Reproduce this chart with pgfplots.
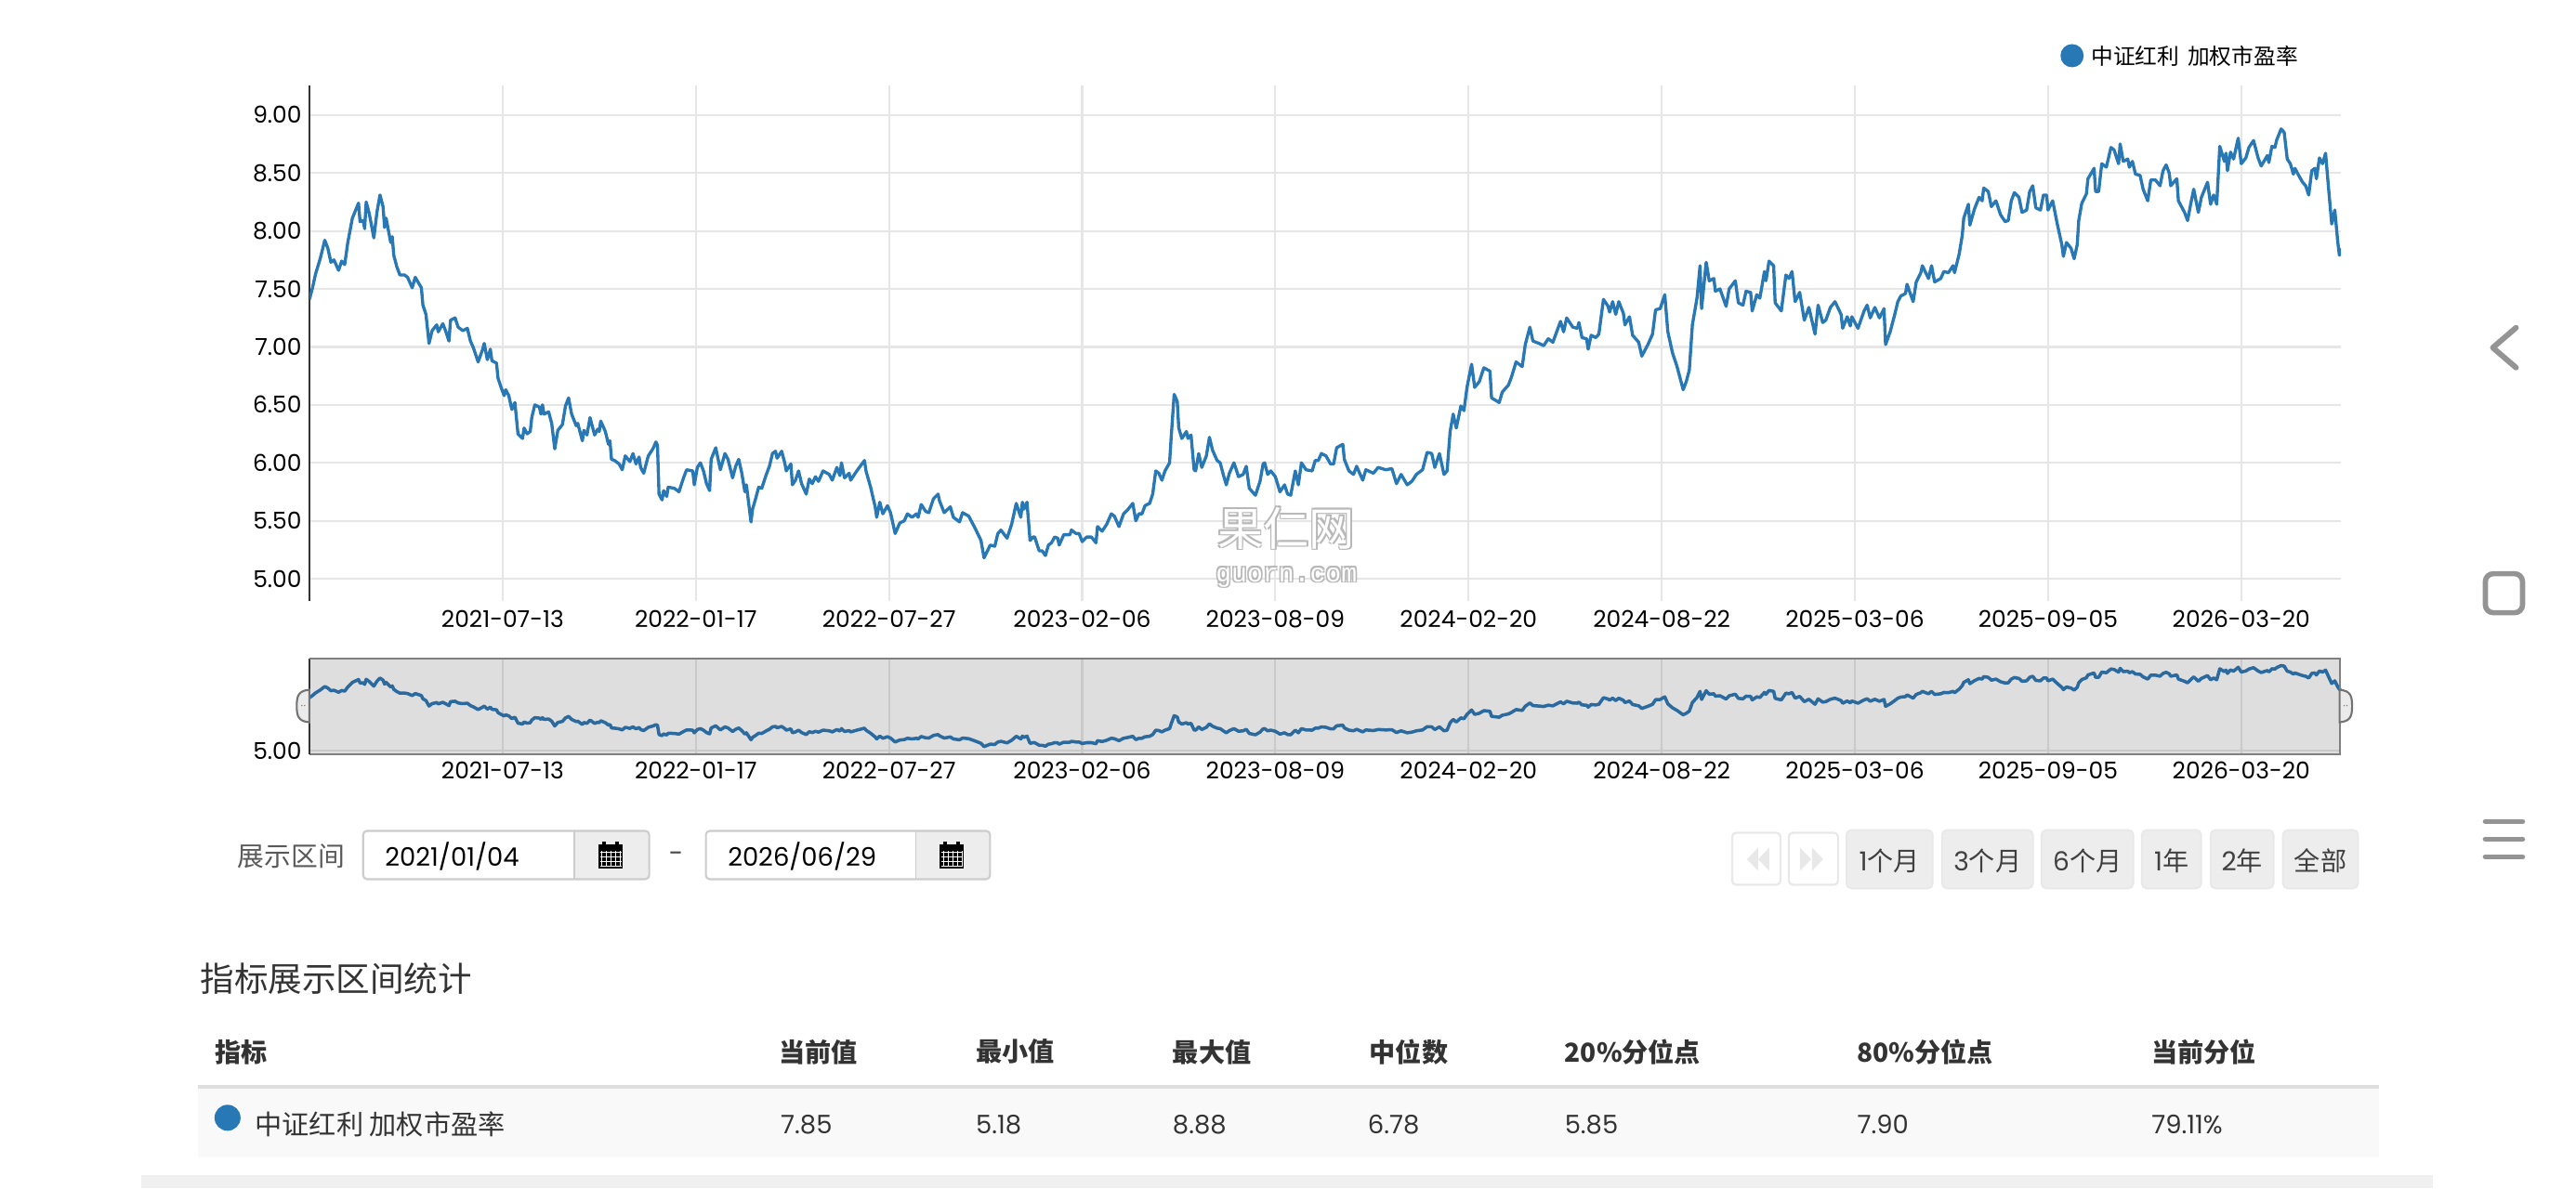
\documentclass[border=0pt]{standalone}
\usepackage{fontspec}
\usepackage{pgfplots}
\usepackage{pgfplotstable}
\pgfplotsset{compat=1.18}
\setmainfont{Poppins}
\newfontfamily\cjk{Noto Sans CJK SC}
\newfontfamily\wmono{Liberation Mono}
\newcommand\fs[1]{\fontsize{#1}{#1}\selectfont}
\definecolor{ser}{HTML}{2878B5}
\definecolor{navser}{HTML}{2A6A9E}
\definecolor{gr}{HTML}{E6E6E6}
\definecolor{txt}{HTML}{333333}
\pgfplotstableread{
x y
0 7.41
2 7.51
4 7.63
7 7.76
10 7.92
12 7.85
14 7.73
16 7.75
19 7.66
21 7.74
23 7.71
25 7.90
28 8.11
32 8.24
33 8.08
35 8.09
36 8.02
37 8.25
39 8.15
42 7.94
44 8.16
46 8.31
48 8.21
49 8.03
50 8.11
53 7.90
54 7.95
55 7.79
57 7.69
59 7.62
62 7.62
64 7.60
67 7.51
69 7.60
73 7.51
74 7.36
76 7.28
78 7.03
80 7.14
83 7.19
84 7.13
87 7.20
89 7.13
91 7.05
92 7.23
95 7.25
97 7.17
100 7.14
103 7.16
105 7.05
107 6.99
110 6.87
113 6.98
114 7.03
116 6.89
118 6.98
119 6.88
122 6.86
123 6.73
125 6.65
127 6.58
128 6.63
130 6.58
132 6.46
134 6.52
136 6.25
139 6.21
140 6.30
142 6.25
144 6.27
145 6.39
147 6.50
150 6.48
151 6.42
152 6.50
153 6.42
156 6.44
158 6.34
160 6.12
162 6.28
165 6.33
167 6.49
169 6.56
171 6.42
174 6.32
175 6.34
178 6.19
179 6.28
181 6.24
183 6.39
186 6.24
188 6.29
189 6.27
190 6.36
193 6.27
195 6.16
196 6.19
197 6.03
199 6.02
202 5.99
204 5.94
206 6.06
209 6.01
211 6.08
213 5.99
215 6.05
216 5.96
218 5.91
221 6.06
224 6.12
226 6.18
227 6.15
228 5.73
230 5.68
231 5.76
233 5.71
234 5.79
238 5.78
241 5.75
244 5.87
246 5.94
250 5.93
251 5.81
253 5.96
255 6.00
257 5.93
259 5.82
261 5.76
262 6.03
265 6.13
268 5.94
271 6.08
273 6.03
276 5.87
278 5.97
280 6.03
282 5.91
284 5.75
285 5.81
288 5.49
289 5.60
291 5.69
293 5.79
295 5.78
298 5.90
300 5.97
302 6.08
304 6.10
305 6.04
308 6.10
310 6.00
311 5.93
314 5.99
315 5.81
317 5.85
319 5.93
321 5.82
324 5.73
326 5.86
328 5.82
330 5.88
332 5.84
335 5.93
339 5.90
341 5.85
344 5.96
346 5.89
347 6.00
349 5.87
352 5.91
353 5.85
357 5.93
362 6.02
363 5.93
366 5.79
369 5.62
370 5.53
372 5.66
374 5.56
377 5.63
379 5.57
382 5.39
385 5.48
388 5.50
390 5.56
393 5.53
396 5.56
397 5.53
399 5.64
402 5.58
404 5.57
407 5.69
410 5.73
411 5.67
414 5.57
418 5.62
420 5.53
424 5.49
426 5.57
430 5.54
434 5.44
438 5.33
440 5.18
444 5.29
447 5.28
449 5.39
451 5.42
455 5.35
458 5.47
461 5.65
464 5.53
465 5.66
466 5.60
468 5.66
470 5.33
472 5.36
473 5.36
476 5.24
478 5.24
480 5.20
482 5.29
484 5.31
486 5.36
488 5.35
489 5.29
492 5.38
496 5.38
497 5.42
500 5.39
502 5.39
504 5.32
507 5.36
510 5.36
513 5.31
514 5.45
517 5.41
520 5.47
523 5.56
525 5.54
528 5.45
531 5.56
534 5.60
537 5.65
539 5.50
541 5.56
543 5.56
545 5.63
548 5.65
550 5.73
552 5.93
554 5.91
556 5.85
558 5.93
561 6.00
562 6.21
564 6.59
566 6.53
567 6.30
569 6.21
572 6.27
573 6.21
575 6.24
577 5.94
578 5.93
580 6.08
582 5.96
585 6.06
587 6.22
589 6.11
592 6.02
594 6.00
596 5.90
598 5.81
600 5.91
603 6.00
606 5.88
609 5.90
611 5.97
613 5.78
617 5.72
620 5.84
622 5.99
623 6.00
625 5.90
627 5.93
630 5.88
633 5.75
636 5.81
638 5.73
640 5.72
643 5.93
645 5.81
647 6.00
650 5.94
654 5.93
656 6.02
658 6.02
660 6.08
663 6.06
666 5.99
668 5.99
670 6.13
674 6.16
675 6.03
678 5.93
681 5.90
683 5.97
687 5.85
689 5.94
694 5.91
697 5.96
702 5.94
706 5.95
709 5.82
712 5.90
716 5.81
719 5.84
722 5.90
726 5.94
729 6.09
732 6.08
734 5.96
737 6.08
740 5.90
742 5.93
744 6.27
746 6.42
748 6.30
751 6.49
753 6.45
755 6.65
758 6.85
760 6.65
763 6.70
766 6.82
770 6.79
771 6.56
776 6.52
778 6.61
782 6.67
784 6.74
787 6.87
791 6.83
793 7.02
796 7.17
798 7.05
802 7.03
805 7.01
808 7.07
811 7.04
816 7.22
818 7.13
820 7.25
824 7.17
827 7.16
828 7.21
830 7.08
833 7.07
834 6.98
836 7.10
839 7.08
841 7.11
844 7.41
847 7.35
848 7.30
850 7.39
852 7.28
854 7.39
857 7.29
858 7.19
861 7.26
863 7.10
865 7.07
867 7.04
869 6.92
873 7.02
876 7.11
878 7.32
881 7.33
884 7.45
886 7.13
889 6.95
892 6.83
896 6.63
898 6.70
900 6.80
902 7.19
905 7.42
907 7.70
908 7.33
911 7.73
913 7.57
916 7.59
917 7.48
920 7.50
924 7.35
926 7.50
930 7.57
932 7.38
935 7.36
937 7.48
940 7.47
941 7.31
944 7.45
946 7.42
949 7.65
950 7.57
952 7.74
955 7.70
956 7.38
960 7.31
963 7.62
965 7.59
967 7.65
969 7.39
972 7.47
975 7.23
978 7.34
982 7.11
984 7.36
987 7.21
989 7.23
992 7.34
995 7.39
999 7.28
1000 7.16
1003 7.26
1005 7.18
1006 7.26
1010 7.16
1014 7.31
1016 7.36
1018 7.25
1021 7.34
1024 7.25
1027 7.33
1028 7.02
1031 7.13
1034 7.28
1036 7.39
1038 7.44
1041 7.46
1042 7.54
1046 7.39
1048 7.56
1051 7.64
1052 7.70
1056 7.59
1058 7.70
1060 7.56
1064 7.59
1066 7.65
1069 7.64
1072 7.70
1073 7.64
1076 7.80
1078 7.96
1079 8.11
1082 8.23
1083 8.05
1086 8.19
1089 8.29
1091 8.26
1092 8.37
1095 8.34
1097 8.21
1100 8.26
1103 8.14
1106 8.08
1108 8.09
1110 8.26
1112 8.33
1115 8.29
1117 8.16
1120 8.18
1122 8.34
1124 8.39
1126 8.20
1129 8.18
1131 8.31
1133 8.31
1134 8.18
1137 8.26
1140 8.06
1143 7.88
1144 7.78
1146 7.90
1149 7.85
1151 7.76
1153 7.88
1154 8.09
1156 8.24
1159 8.32
1160 8.45
1164 8.54
1165 8.34
1167 8.34
1169 8.58
1172 8.55
1175 8.72
1177 8.70
1180 8.58
1181 8.75
1183 8.60
1186 8.62
1187 8.55
1189 8.60
1191 8.49
1194 8.48
1196 8.36
1199 8.26
1201 8.44
1204 8.44
1207 8.39
1209 8.52
1211 8.57
1213 8.50
1214 8.39
1218 8.45
1219 8.26
1223 8.16
1225 8.09
1227 8.23
1229 8.36
1232 8.16
1234 8.29
1238 8.42
1240 8.23
1242 8.31
1244 8.23
1246 8.73
1249 8.60
1250 8.67
1251 8.52
1253 8.68
1255 8.62
1258 8.80
1260 8.58
1263 8.63
1265 8.72
1268 8.78
1271 8.63
1273 8.56
1277 8.65
1278 8.59
1280 8.73
1282 8.72
1283 8.78
1286 8.88
1288 8.85
1290 8.62
1292 8.58
1294 8.49
1295 8.54
1297 8.49
1300 8.42
1302 8.39
1304 8.31
1306 8.52
1308 8.54
1309 8.45
1311 8.63
1313 8.58
1315 8.67
1317 8.36
1319 8.06
1321 8.18
1323 7.90
1324 7.79
1325 7.85
}\data
\pgfplotsset{
  uiaxis/.style={
    scale only axis, width=21.86cm,
    xmin=0, xmax=1325,
    axis x line*=bottom, axis y line*=left,
    xtick={126,252,378,504,630,756,882,1008,1134,1260},
    xticklabels={2021-07-13,2022-01-17,2022-07-27,2023-02-06,2023-08-09,2024-02-20,2024-08-22,2025-03-06,2025-09-05,2026-03-20},
    major tick length=0pt,
    tick style={draw=none},
    xticklabel style={font=\fs{7.1}, text=black, inner sep=0pt, anchor=north},
    yticklabel style={font=\fs{7.1}, text=black, inner sep=0pt, anchor=east, xshift=-2.2pt},
    /pgf/number format/assume math mode=true,
    /pgf/number format/fixed, /pgf/number format/zerofill, /pgf/number format/precision=2,
    grid=major,
  }
}
\begin{document}
\begin{tikzpicture}
\path[use as bounding box, fill=white] (0,0) rectangle (27.72,-12.80);
% main chart
\begin{axis}[uiaxis, at={(3.33cm,-6.47cm)}, anchor=south west, height=5.55cm,
  ymin=4.808, ymax=9.255,
  ytick={5,5.5,6,6.5,7,7.5,8,8.5,9},
  major grid style={draw=gr, line width=0.62pt},
  x axis line style={draw=none},
  y axis line style={draw=txt, line width=0.6pt},
  xticklabel style={yshift=-2.6pt},
]
\addplot[color=ser, line width=0.95pt, line join=round, no marks] table[x=x,y=y] {\data};
\end{axis}
% navigator
\begin{axis}[uiaxis, at={(3.33cm,-8.117cm)}, anchor=south west, height=1.027cm,
  ymin=4.843, ymax=9.195,
  ytick={5},
  axis background/.style={fill=black!13},
  major grid style={draw=black!21, line width=0.62pt},
  x axis line style={draw=black!50, line width=0.6pt},
  y axis line style={draw=txt, line width=0.6pt},
  xticklabel style={yshift=-2.2pt},
  clip=false,
]
\addplot[color=navser, line width=1pt, line join=round, no marks] table[x=x,y=y] {\data};
\end{axis}
\begin{scope}[x=0.01cm, y=-0.01cm]
% navigator frame
\draw[black!50, line width=0.6pt] (333,709) -- (2519,709) -- (2519,811.7);
% handles
\foreach \X/\S in {333/-1, 2519/1}{
  \draw[fill=white!92!black, draw=black!55, line width=0.6pt]
    (\X,743) .. controls ({\X+\S*12},744) and ({\X+\S*13.5},750) .. ({\X+\S*13.5},760.5)
    .. controls ({\X+\S*13.5},771) and ({\X+\S*12},777) .. (\X,778) -- cycle;
  \fill[black!50] ({\X+\S*5},760) circle (0.8) ({\X+\S*8},760) circle (0.8);
}
% legend
\fill[ser] (2231,60) circle (12.5);
\node[anchor=west, inner sep=0pt, text=black, font=\cjk\fs{6.75}] at (2251,60) {中证红利\hspace{1pt} 加权市盈率};
% date controls
\node[anchor=west, inner sep=0pt, text=black!65, font=\cjk\fs{8.2}] at (255,922) {展示区间};
\foreach \L/\D/\R/\T/\IC in {391/618/699/2021\slash 01\slash 04/657, 760/986/1066/2026\slash 06\slash 29/1025}{
  \fill[black!7, rounded corners=1pt] (\D,895) rectangle (\R,947);
  \draw[black!20, line width=0.6pt, rounded corners=1.2pt] (\L,895) rectangle (\R,947);
  \draw[black!20, line width=0.5pt] (\D,895) -- (\D,947);
  \node[anchor=west, inner sep=0pt, text=black, font=\fs{7.8}] at ({\L+23},922) {\T};
  % calendar icon
  \fill[black] ({\IC-13},910) rectangle ({\IC+13},936);
  \fill[black] ({\IC-9},906.5) rectangle ({\IC-5},912);
  \fill[black] ({\IC+5},906.5) rectangle ({\IC+9},912);
  \foreach \k in {-9,-4,1,6,11}{\draw[white, line width=0.25pt] ({\IC+\k},917) -- ({\IC+\k},934);}
  \foreach \k in {918,923,928,933}{\draw[white, line width=0.25pt] ({\IC-11},\k) -- ({\IC+12},\k);}
}
\node[inner sep=0pt, text=black!70, font=\fs{8}] at (728,923) {-};
% nav buttons disabled
\foreach \A/\B in {1865/1917,1926/1979}{
  \draw[fill=white, draw=black!9, line width=0.6pt, rounded corners=1.2pt] (\A,897) rectangle (\B,953);
}
\fill[black!9] (1893,913) -- (1881,925.5) -- (1893,938) -- cycle;
\fill[black!9] (1905,913) -- (1893,925.5) -- (1905,938) -- cycle;
\fill[black!9] (1938,913) -- (1950,925.5) -- (1938,938) -- cycle;
\fill[black!9] (1951,913) -- (1963,925.5) -- (1951,938) -- cycle;
\foreach \A/\B/\N/\T in {1988/2081/1/个月, 2091/2189/3/个月, 2198/2297/6/个月, 2306/2370/1/年, 2380/2448/2/年, 2458/2539//全部}{
  \draw[fill=black!7, draw=black!9, line width=0.5pt, rounded corners=1.5pt] (\A,894) rectangle (\B,957);
  \node[inner sep=0pt, text=black!75, font=\fs{8}] at ({(\A+\B)/2},927) {\N{\cjk\T}};
}
% android controls
\draw[black!42, line width=1.7pt, line cap=round, line join=round] (2709,353) -- (2684,374.5) -- (2709,396);
\draw[black!42, line width=1.6pt, rounded corners=2.4pt] (2676,618) rectangle (2716,660);
\foreach \k in {885,904,923}{\draw[black!42, line width=1.6pt, line cap=round] (2676,\k) -- (2716,\k);}
% statistics
\node[anchor=west, inner sep=0pt, text=txt, font=\cjk\fs{10.4}] at (215,1054) {指标展示区间统计};
\foreach \X/\T in {231/指标, 838/当前值, 1050/最小值, 1262/最大值, 1474/中位数, 1684/20\%分位点, 1999/80\%分位点, 2316/当前分位}{
  \node[anchor=west, inner sep=0pt, text=txt, font=\cjk\bfseries\fs{8}] at (\X,1133) {\T};
}
\fill[black!13] (213,1169) rectangle (2561,1173);
\fill[black!2.5] (213,1173) rectangle (2561,1247);
\fill[ser] (245,1204) circle (14);
\node[anchor=west, inner sep=0pt, text=txt, font=\cjk\fs{8.3}] at (274,1211) {中证红利 加权市盈率};
\foreach \X/\T in {840/7.85, 1050/5.18, 1262/8.88, 1472/6.78, 1684/5.85, 1999/7.90, 2316/79.11\%}{
  \node[anchor=west, inner sep=0pt, text=txt, font=\fs{7.8}] at (\X,1211) {\T};
}
\fill[black!6] (152,1266) rectangle (2619,1280);
% watermark
\foreach \dx/\dy in {-1.5/-1.5, 1.5/1.5, -1.5/1.5, 1.5/-1.5}{
  \node[inner sep=0pt, text=black!28, font=\cjk\fs{14}] at ({1385+\dx},{569+\dy}) {果仁网};
  \node[inner sep=0pt, text=black!28, font=\wmono\fs{8}] at ({1385+\dx},{622+\dy}) {guorn.com};
}
\node[inner sep=0pt, text=white, font=\cjk\fs{14}] at (1385,569) {果仁网};
\node[inner sep=0pt, text=white, font=\wmono\fs{8}] at (1385,622) {guorn.com};
\end{scope}
\end{tikzpicture}
\end{document}
